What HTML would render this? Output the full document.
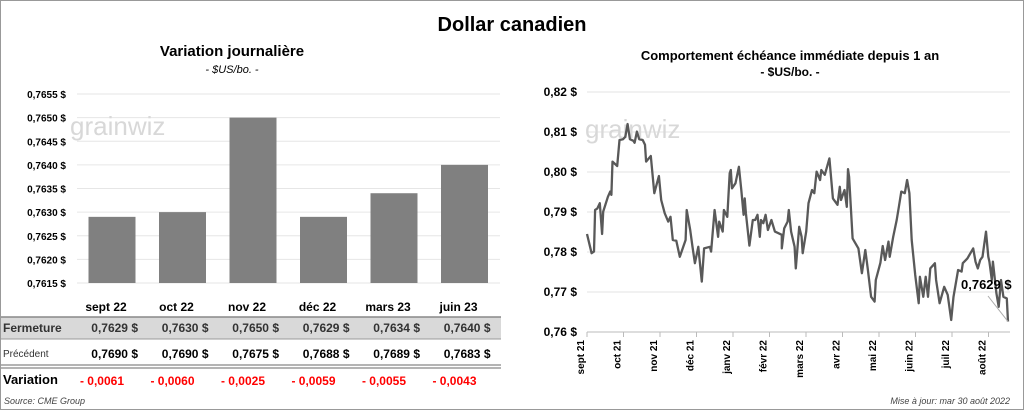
<!DOCTYPE html>
<html><head><meta charset="utf-8"><style>
body{margin:0;width:1024px;height:410px;overflow:hidden;background:#fff;font-family:"Liberation Sans",sans-serif}
svg text{font-family:"Liberation Sans",sans-serif}
</style></head><body>
<svg id="s" width="1024" height="410">
<rect x="0.5" y="0.5" width="1023" height="409" fill="#fff" stroke="#999"/>
<text x="512" y="31" text-anchor="middle" font-size="20" font-weight="bold">Dollar canadien</text>
<text x="232" y="56" text-anchor="middle" font-size="15" font-weight="bold">Variation  journalière</text>
<text x="232" y="73" text-anchor="middle" font-size="11" font-style="italic">- $US/bo. -</text>
<text x="790" y="60" text-anchor="middle" font-size="13" font-weight="bold">Comportement échéance immédiate depuis 1 an</text>
<text x="790" y="76" text-anchor="middle" font-size="12" font-weight="bold">- $US/bo. -</text>
<g id="left"></g>
<g id="right"></g>
<g id="table"></g>
<text x="4" y="404" font-size="9" font-style="italic" fill="#444">Source: CME Group</text>
<text x="1010" y="404" text-anchor="end" font-size="9" font-style="italic" fill="#444">Mise à jour: mar 30 août 2022</text>
</svg>
<script>
const barCats=["sept 22","oct 22","nov 22","déc 22","mars 23","juin 23"];
const barVals=[0.7629,0.7630,0.7650,0.7629,0.7634,0.7640];
const barTicks=[0.7615,0.7620,0.7625,0.7630,0.7635,0.7640,0.7645,0.7650,0.7655];
const prevVals=[0.7690,0.7690,0.7675,0.7688,0.7689,0.7683];
const lineTicks=[0.76,0.77,0.78,0.79,0.80,0.81,0.82];
const monthLabels=["sept 21","oct 21","nov 21","déc 21","janv 22","févr 22","mars 22","avr 22","mai 22","juin 22","juil 22","août 22"];
const lineDays=[0,4,6,7,9,11,13,14,18,20,21,22,26,28,31,33,35,37,40,41,43,45,48,50,51,55,58,62,64,67,70,72,74,77,80,85,86,89,91,93,96,99,101,106,107,110,113,114,117,118,121,123,124,125,128,131,133,135,136,137,140,143,145,147,149,150,152,154,156,159,162,165,168,168,170,173,174,176,179,180,183,185,186,189,191,194,196,198,201,202,205,209,212,216,218,219,222,224,225,226,229,234,237,240,242,245,248,249,253,255,257,260,261,264,267,269,271,274,276,278,280,283,286,287,290,292,294,296,300,301,304,308,311,314,316,320,323,324,328,333,335,337,339,341,344,346,347,349,350,353,355,357,359,362,363];
const lineVals=[0.7845,0.7797,0.7801,0.7905,0.7909,0.7922,0.7845,0.7901,0.7938,0.7951,0.7943,0.8026,0.8015,0.8080,0.8082,0.8088,0.8120,0.8082,0.8078,0.8073,0.8101,0.8082,0.8080,0.8068,0.8026,0.8040,0.7947,0.7990,0.7930,0.7897,0.7876,0.7888,0.7830,0.7828,0.7788,0.7830,0.7905,0.7855,0.7813,0.7772,0.7813,0.7726,0.7809,0.7813,0.7801,0.7905,0.7838,0.7876,0.7851,0.7905,0.7888,0.7997,0.8005,0.7959,0.7972,0.8013,0.7955,0.7893,0.7934,0.7897,0.7816,0.7880,0.7880,0.7893,0.7838,0.7880,0.7872,0.7893,0.7855,0.7880,0.7851,0.7847,0.7843,0.7809,0.7859,0.7876,0.7905,0.7851,0.7813,0.7759,0.7863,0.7838,0.7797,0.7851,0.7922,0.7955,0.7947,0.8001,0.7980,0.8005,0.7993,0.8034,0.7934,0.7918,0.7963,0.7930,0.7955,0.7913,0.8007,0.7988,0.7834,0.7809,0.7747,0.7805,0.7759,0.7688,0.7676,0.7730,0.7773,0.7815,0.7780,0.7826,0.7788,0.7838,0.7880,0.7915,0.7951,0.7947,0.7980,0.7947,0.7830,0.7743,0.7672,0.7738,0.7688,0.7738,0.7688,0.7759,0.7772,0.7730,0.7672,0.7713,0.7693,0.7630,0.7688,0.7755,0.7751,0.7772,0.7784,0.7809,0.7776,0.7759,0.7780,0.7788,0.7851,0.7788,0.7776,0.7730,0.7776,0.7697,0.7663,0.7730,0.7688,0.7684,0.7626];
const lastLabel="0,7629 $";
const NS="http://www.w3.org/2000/svg";
function mk(p,t,a){const e=document.createElementNS(NS,t);for(const k in a)e.setAttribute(k,a[k]);p.appendChild(e);return e;}
const fmt4=v=>v.toFixed(4).replace('.',',');
// left bar chart
const L=document.getElementById('left');
const ly=v=>283-(v-0.7615)/(0.7655-0.7615)*189;
const lx=i=>112+i*70.5;
barTicks.forEach(t=>{
 const g=mk(L,'line',{x1:77,x2:500,y1:ly(t),y2:ly(t),stroke:'#e6e6e6','stroke-width':1});
 
 
 const tx=mk(L,'text',{x:66,y:ly(t)+4,'text-anchor':'end','font-size':10,'font-weight':'bold'});tx.textContent=fmt4(t)+' $';
 
 
});
const wm1=mk(L,'text',{x:70,y:135,'font-size':26,fill:'#d8d8d8'});wm1.textContent='grainwiz';


barVals.forEach((v,i)=>{
 const r=mk(L,'rect',{x:lx(i)-23.5,y:ly(v),width:47,height:283-ly(v),fill:'#808080'});
 
 
});
// table
const T=document.getElementById('table');
mk(T,'rect',{x:1,y:317,width:500,height:22,fill:'#d9d9d9'});
mk(T,'line',{x1:1,x2:501,y1:317,y2:317,stroke:'#888','stroke-width':1.5});
mk(T,'line',{x1:1,x2:501,y1:339,y2:339,stroke:'#999'});
mk(T,'line',{x1:1,x2:501,y1:365,y2:365,stroke:'#888','stroke-width':1.2});
mk(T,'line',{x1:1,x2:501,y1:368,y2:368,stroke:'#888','stroke-width':1.2});
let h=mk(T,'text',{x:3,y:332,'font-size':12,'font-weight':'bold',fill:'#333'});h.textContent='Fermeture';

h=mk(T,'text',{x:3,y:357,'font-size':10,fill:'#333'});h.textContent='Précédent';

h=mk(T,'text',{x:3,y:384,'font-size':13,'font-weight':'bold'});h.textContent='Variation';

barCats.forEach((c,i)=>{
 const x=lx(i);
 let t=mk(T,'text',{x:x-6,y:311,'text-anchor':'middle','font-size':12,'font-weight':'bold'});t.textContent=c;
 
 
 t=mk(T,'text',{x:x+26,y:332,'text-anchor':'end','font-size':12,'font-weight':'bold',fill:'#333'});t.textContent=fmt4(barVals[i])+'  $';
 
 
 t=mk(T,'text',{x:x+26,y:358,'text-anchor':'end','font-size':12,'font-weight':'bold'});t.textContent=fmt4(prevVals[i])+'  $';
 
 
 t=mk(T,'text',{x:x+12,y:385,'text-anchor':'end','font-size':12,'font-weight':'bold',fill:'#f00'});t.textContent='- '+fmt4(Math.abs(barVals[i]-prevVals[i]));
 
 
});
// right line chart
const R=document.getElementById('right');
const ry=v=>332-(v-0.76)/0.06*240;
const rx=d=>587+d/363*421;
lineTicks.forEach(t=>{
 const g=mk(R,'line',{x1:587,x2:1010,y1:ry(t),y2:ry(t),stroke:t===0.76?'#bbb':'#e3e3e3','stroke-width':1});
 
 
 const tx=mk(R,'text',{x:577,y:ry(t)+4,'text-anchor':'end','font-size':12,'font-weight':'bold'});tx.textContent=t.toFixed(2).replace('.',',')+' $';
 
 
});
const wm2=mk(R,'text',{x:585,y:138,'font-size':26,fill:'#d8d8d8'});wm2.textContent='grainwiz';


monthLabels.forEach((m,i)=>{
 const x=587+i*36.5;
 const tk=mk(R,'line',{x1:x,x2:x,y1:332,y2:337,stroke:'#bbb'});
 
 
 const tx=mk(R,'text',{x:0,y:0,'font-size':10,'font-weight':'bold','text-anchor':'end',transform:`translate(${x-3},340) rotate(-90)`});tx.textContent=m;
 
 
});
const n=Math.min(lineDays.length,lineVals.length);
let d='';for(let i=0;i<n;i++)d+=(i?'L':'M')+rx(lineDays[i]).toFixed(1)+' '+ry(lineVals[i]).toFixed(1);
const p=mk(R,'path',{d:d,fill:'none',stroke:'#595959','stroke-width':2.3,'stroke-linejoin':'round'});


const ld=mk(R,'line',{x1:988,y1:296,x2:rx(lineDays[n-1]),y2:ry(lineVals[n-1]),stroke:'#aaa','stroke-width':1});


const lt=mk(R,'text',{x:961,y:289,'font-size':13,'font-weight':'bold'});lt.textContent=lastLabel;


</script>
</body></html>
